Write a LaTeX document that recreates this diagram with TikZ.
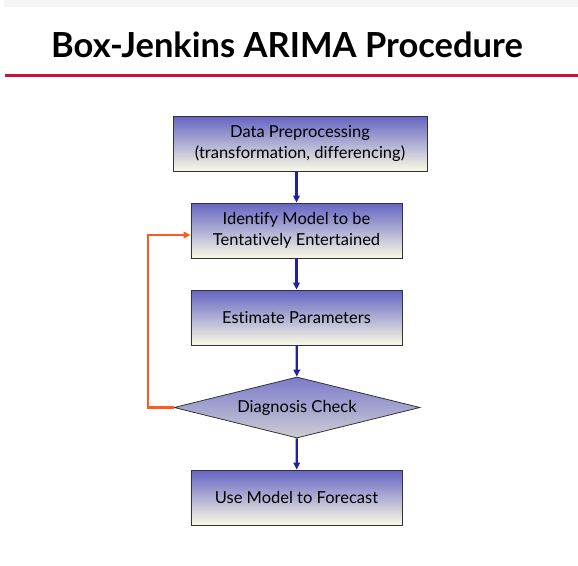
\documentclass[tikz,border=0pt]{standalone}
\usepackage{fontspec}
\setmainfont{Lato}[Ligatures={NoCommon,NoDiscretionary,NoContextual}]
\usetikzlibrary{shapes.geometric,arrows.meta}
\definecolor{boxtop}{HTML}{6464C4}
\definecolor{boxbot}{HTML}{FAFAE4}
\definecolor{diabot}{HTML}{CDCDD2}
\definecolor{flowblue}{HTML}{1C22A0}
\definecolor{looporange}{HTML}{FF5A1E}
\definecolor{rulered}{HTML}{C8143C}
\tikzset{
  stepbox/.style={draw=black!80, line width=0.8pt, top color=boxtop, bottom color=boxbot,
    minimum width=211pt, minimum height=55pt, align=center, font=\fontsize{16.5}{21}\selectfont, inner sep=0pt},
  checkbox/.style={draw=black!80, line width=0.8pt, diamond, aspect=4, top color=boxtop!85, bottom color=diabot,
    minimum width=246pt, minimum height=61pt, font=\fontsize{16.5}{21}\selectfont, inner sep=0pt},
  flow/.style={draw=flowblue, line width=2.2pt, -{Triangle[length=7pt,width=6.5pt]}},
  loop/.style={draw=looporange, line width=2.4pt, -{Triangle[length=7pt,width=6.5pt]}}
}
\begin{document}
\begin{tikzpicture}[x=1pt,y=-1pt]
\useasboundingbox (0,0) rectangle (578,565);
\fill[gray!8] (4,0) rectangle (578,7);
\node[font=\fontsize{34.5}{40}\bfseries\selectfont] (title) at (287,45) {Box-Jenkins ARIMA Procedure};
\fill[rulered] (5,73.5) rectangle (578,76.5);
\node[stepbox, minimum width=254pt] (pre) at (300,143.5) {Data Preprocessing\\(transformation, differencing)};
\node[stepbox] (ident) at (296.5,230.5) {Identify Model to be\\Tentatively Entertained};
\node[stepbox] (est) at (296.5,317.5) {Estimate Parameters};
\node[checkbox] (diag) at (297,407.5) {Diagnosis Check};
\node[stepbox] (use) at (296.5,497.5) {Use Model to Forecast};
\draw[flow] (pre.south -| ident) -- (ident.north);
\draw[flow] (ident) -- (est);
\draw[flow] (est) -- (diag);
\draw[flow] (diag) -- (use);
\coordinate (c1) at (148,407.5);
\coordinate (c2) at (148,235);
\draw[loop] (diag.west) -- (c1) -- (c2) -- (c2 -| ident.west);
\end{tikzpicture}
\end{document}
